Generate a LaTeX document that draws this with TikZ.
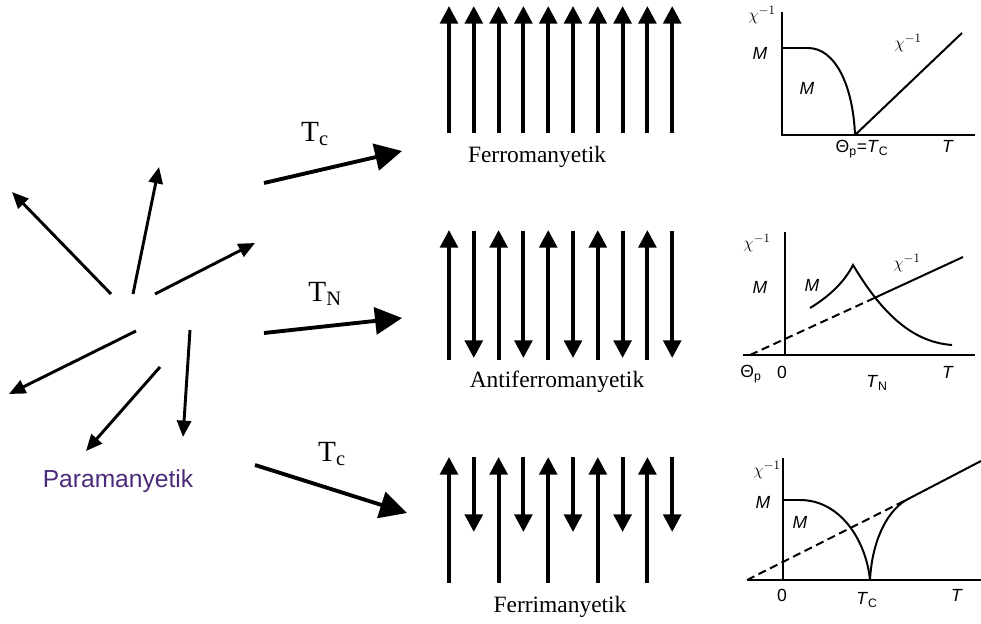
\documentclass[tikz,border=0pt]{standalone}
\usepackage{fontspec}
\setmainfont{Liberation Serif}
\setsansfont{Liberation Sans}
\usetikzlibrary{arrows.meta}
\definecolor{paracolor}{HTML}{4B2A7B}

\tikzset{
  spin/.style={line width=3.3pt, -{Triangle[length=15pt, width=15pt]}},
  randspin/.style={line width=2.5pt, -{Triangle[length=14pt, width=12pt]}},
  trans/.style={line width=3.3pt, -{Triangle[length=23pt, width=23pt]}},
  axis/.style={line width=1.4pt},
  curve/.style={line width=1.7pt},
  lbl/.style={font=\fontsize{20}{24}\selectfont, inner sep=0pt},
  tlbl/.style={font=\fontsize{25}{30}\selectfont, inner sep=0pt},
  glbl/.style={font=\sffamily\fontsize{15}{17}\selectfont, inner sep=0pt},
}

\begin{document}
\begin{tikzpicture}[x=0.03cm, y=-0.03cm]
        \useasboundingbox (0,0) rectangle (981,624);

        % Paramagnetic -- random spins
        \draw[randspin] (111,294) -- (12,192);
        \draw[randspin] (133,294) -- (159,167);
        \draw[randspin] (155,294) -- (255,243);
        \draw[randspin] (136,331) -- (9,394);
        \draw[randspin] (160,367) -- (86,451);
        \draw[randspin] (190,330) -- (183,437);
        \node[font=\sffamily\fontsize{21}{24}\selectfont, text=paracolor] (para) at (118,481) {Paramanyetik};

        % Transitions
        \coordinate (fromF) at (264,183); \coordinate (toF) at (402,151);
        \coordinate (fromA) at (264,333); \coordinate (toA) at (402,318);
        \coordinate (fromI) at (255,465); \coordinate (toI) at (407,513);
        \draw[trans] (fromF) -- (toF);
        \draw[trans] (fromA) -- (toA);
        \draw[trans] (fromI) -- (toI);
        \node[tlbl] (tcF) at (315,134) {T\textsubscript{c}};
        \node[tlbl] (tnA) at (325,294) {T\textsubscript{N}};
        \node[tlbl] (tcI) at (332,454) {T\textsubscript{c}};

        % Ferromagnetic
        \foreach \x in {449,473.8,498.6,523.4,548.2,573,597.8,622.6,647.4,672.2}
          \draw[spin] (\x,133) -- (\x,6);
        \node[lbl] (ferro) at (537,157) {Ferromanyetik};

        % Antiferromagnetic
        \foreach \x in {449,498.6,548.2,597.8,647.4} {
          \draw[spin] (\x,360) -- (\x,230);
          \draw[spin] (\x+24.8,231) -- (\x+24.8,358);
        }
        \node[lbl] (antiferro) at (557,382) {Antiferromanyetik};

        % Ferrimagnetic
        \foreach \x in {449,498.6,548.2,597.8,647.4} {
          \draw[spin] (\x,583) -- (\x,457);
          \draw[spin] (\x+24.8,457) -- (\x+24.8,532);
        }
        \node[lbl] (ferri) at (560,607) {Ferrimanyetik};

        % Graph -- ferro
        \draw[axis] (782,12) -- (782,135) -- (975,135);
        \draw[curve] (782,48) -- (808,48) .. controls (835,48) and (853,85) .. (855,135);
        \draw[curve] (855,135) -- (962,33);
        \node[glbl] (chiF) at (762,15) {$\chi^{-1}$};
        \node[glbl] (mF) at (760,53) {\textit{M}};
        \node[glbl] (mFin) at (807,88) {\textit{M}};
        \node[glbl] (chiFr) at (908,43) {$\chi^{-1}$};
        \node[glbl] (tcFg) at (862,149) {Θ\textsubscript{p}=\textit{T}\textsubscript{C}};
        \node[glbl] (tFg) at (948,146) {\textit{T}};

        % Graph -- antiferro
        \draw[axis] (785,232) -- (785,355);
        \draw[axis] (743,355) -- (975,355);
        \draw[curve, dashed, dash pattern=on 7pt off 4pt] (750,355) -- (870,300);
        \draw[curve] (870,300) -- (963,257);
        \draw[curve] (810,308) .. controls (830,296) and (845,281) .. (853,265)
                              .. controls (880,310) and (910,342) .. (952,345);
        \node[glbl] (chiA) at (757,243) {$\chi^{-1}$};
        \node[glbl] (mA) at (760,287) {\textit{M}};
        \node[glbl] (mAin) at (812,285) {\textit{M}};
        \node[glbl] (chiAr) at (907,263) {$\chi^{-1}$};
        \node[glbl] (thA) at (751,374) {Θ\textsubscript{p}};
        \node[glbl] (zA) at (782,372) {0};
        \node[glbl] (tnAg) at (877,383) {\textit{T}\textsubscript{N}};
        \node[glbl] (tAg) at (948,372) {\textit{T}};

        % Graph -- ferri
        \draw[axis] (783,458) -- (783,580);
        \draw[axis] (747,580) -- (981,580);
        \draw[curve, dashed, dash pattern=on 7pt off 4pt] (747,580) -- (910,498);
        \draw[curve] (783,500) -- (800,500) .. controls (840,500) and (866,540) .. (870,580);
        \draw[curve] (870,580) .. controls (872,540) and (888,508) .. (910,498) -- (981,461);
        \node[glbl] (chiI) at (767,470) {$\chi^{-1}$};
        \node[glbl] (mI) at (763,502) {\textit{M}};
        \node[glbl] (mIin) at (800,522) {\textit{M}};
        \node[glbl] (zI) at (782,595) {0};
        \node[glbl] (tcIg) at (867,600) {\textit{T}\textsubscript{C}};
        \node[glbl] (tIg) at (957,595) {\textit{T}};
      \end{tikzpicture}
\end{document}
